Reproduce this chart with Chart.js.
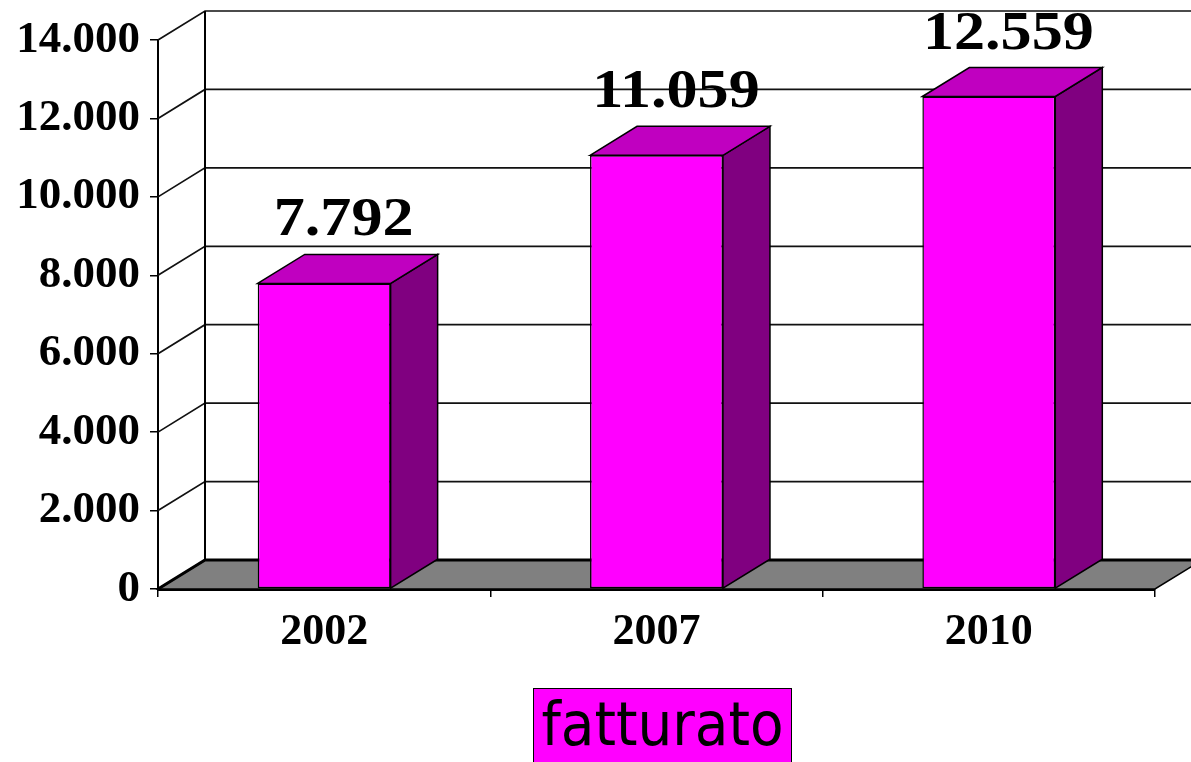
<!DOCTYPE html>
<html><head><meta charset="utf-8">
<script src="https://cdn.jsdelivr.net/npm/chart.js@4/dist/chart.umd.min.js"></script>
<style>
html,body{margin:0;padding:0;background:#fff;overflow:hidden}
#wrap{position:relative;width:1191px;height:762px}
#legend{position:absolute;left:533px;top:688px;width:259px;height:80px;box-sizing:border-box;background:#ff00ff;border:1.5px solid #000;font-family:"DejaVu Sans Condensed","DejaVu Sans",sans-serif;font-size:61px;line-height:70px;text-align:center;color:#000;white-space:nowrap}
</style></head><body>
<div id="wrap"><canvas id="c" width="1191" height="762"></canvas><div id="legend">fatturato</div></div>
<script>
// ---- data ----
const categories = ['2002', '2007', '2010'];
const fatturato = [7792, 11059, 12559];
const yTicks = [0, 2000, 4000, 6000, 8000, 10000, 12000, 14000];
const seriesName = 'fatturato';

// ---- styling ----
const DX = 47, DY = -29;
const FRONT = '#ff00ff', TOP = '#c000c0', SIDE = '#800080';
const SERIF = '"Liberation Serif","Times New Roman",serif';

function fmt(v) {
  return String(Math.round(v)).replace(/\B(?=(\d{3})+(?!\d))/g, '.');
}

const walls = {
  id: 'walls',
  beforeDatasetsDraw(chart) {
    const { ctx, chartArea: a, scales: { y } } = chart;
    const W = chart.width + 10;
    ctx.save();
    // floor
    ctx.fillStyle = '#808080';
    ctx.beginPath();
    ctx.moveTo(a.left, a.bottom);
    ctx.lineTo(a.left + DX, a.bottom + DY);
    ctx.lineTo(a.right + DX, a.bottom + DY);
    ctx.lineTo(a.right, a.bottom);
    ctx.closePath();
    ctx.fill();
    ctx.strokeStyle = '#000';
    ctx.lineWidth = 1.5;
    ctx.stroke();
    // grid lines: left wall + back wall
    yTicks.forEach(v => {
      const py = y.getPixelForValue(v);
      ctx.lineWidth = v === 0 ? 3 : 1.7;
      ctx.strokeStyle = v === 0 ? '#000' : '#111';
      ctx.beginPath();
      ctx.moveTo(a.left, py);
      ctx.lineTo(a.left + DX, py + DY);
      ctx.lineTo(v === 0 ? a.right + DX : W, py + DY);
      ctx.stroke();
    });
    // back wall vertical edge
    ctx.strokeStyle = '#000';
    ctx.lineWidth = 2;
    ctx.beginPath();
    ctx.moveTo(a.left + DX, y.getPixelForValue(yTicks[yTicks.length - 1]) + DY);
    ctx.lineTo(a.left + DX, a.bottom + DY);
    ctx.stroke();
    ctx.restore();
  },
  afterDatasetsDraw(chart) {
    const { ctx } = chart;
    const meta = chart.getDatasetMeta(0);
    ctx.save();
    ctx.strokeStyle = '#000';
    ctx.lineWidth = 1.5;
    ctx.lineJoin = 'miter';
    meta.data.forEach((bar, i) => {
      const { x, y, base, width } = bar.getProps(['x', 'y', 'base', 'width'], true);
      const l = x - width / 2, r = x + width / 2;
      // side
      ctx.fillStyle = SIDE;
      ctx.beginPath();
      ctx.moveTo(r, y); ctx.lineTo(r + DX, y + DY); ctx.lineTo(r + DX, base + DY); ctx.lineTo(r, base);
      ctx.closePath(); ctx.fill(); ctx.stroke();
      // top
      ctx.fillStyle = TOP;
      ctx.beginPath();
      ctx.moveTo(l, y); ctx.lineTo(l + DX, y + DY); ctx.lineTo(r + DX, y + DY); ctx.lineTo(r, y);
      ctx.closePath(); ctx.fill(); ctx.stroke();
      // value label
      ctx.save();
      ctx.fillStyle = '#000';
      ctx.font = 'bold 55px ' + SERIF;
      ctx.textAlign = 'center';
      ctx.textBaseline = 'alphabetic';
      ctx.translate(x + DX / 2 - 4, y + DY - 19);
      ctx.scale(1.13, 1);
      ctx.fillText(fmt(fatturato[i]), 0, 0);
      ctx.restore();
    });
    ctx.restore();
  }
};

new Chart(document.getElementById('c'), {
  type: 'bar',
  data: {
    labels: categories,
    datasets: [{
      label: seriesName,
      data: fatturato,
      backgroundColor: FRONT,
      borderColor: '#000',
      borderWidth: 1.5,
      borderSkipped: false,
      barPercentage: 0.4,
      categoryPercentage: 1.0
    }]
  },
  options: {
    responsive: false,
    animation: false,
    devicePixelRatio: 1,
    layout: { padding: { top: 40, right: 36, left: 0, bottom: 0 } },
    plugins: { legend: { display: false }, tooltip: { enabled: false } },
    scales: {
      x: {
        offset: true,
        grid: { display: true, drawOnChartArea: false, offset: true, color: '#000', lineWidth: 1.5, tickLength: 8 },
        border: { display: true, color: '#000', width: 3 },
        ticks: { color: '#000', padding: 9, font: { family: SERIF, size: 44, weight: 'bold' } },
        afterFit(s) { s.height = 173; }
      },
      y: {
        min: 0, max: 14000,
        afterBuildTicks(s) { s.ticks = yTicks.map(v => ({ value: v })); },
        grid: { display: true, drawOnChartArea: false, color: '#000', lineWidth: 1.5, tickLength: 8 },
        border: { display: true, color: '#000', width: 2 },
        ticks: { color: '#000', padding: 10, font: { family: SERIF, size: 45, weight: 'bold' }, callback: v => fmt(v) },
        afterFit(s) { s.width = 158; }
      }
    }
  },
  plugins: [walls]
});
</script>
</body></html>
